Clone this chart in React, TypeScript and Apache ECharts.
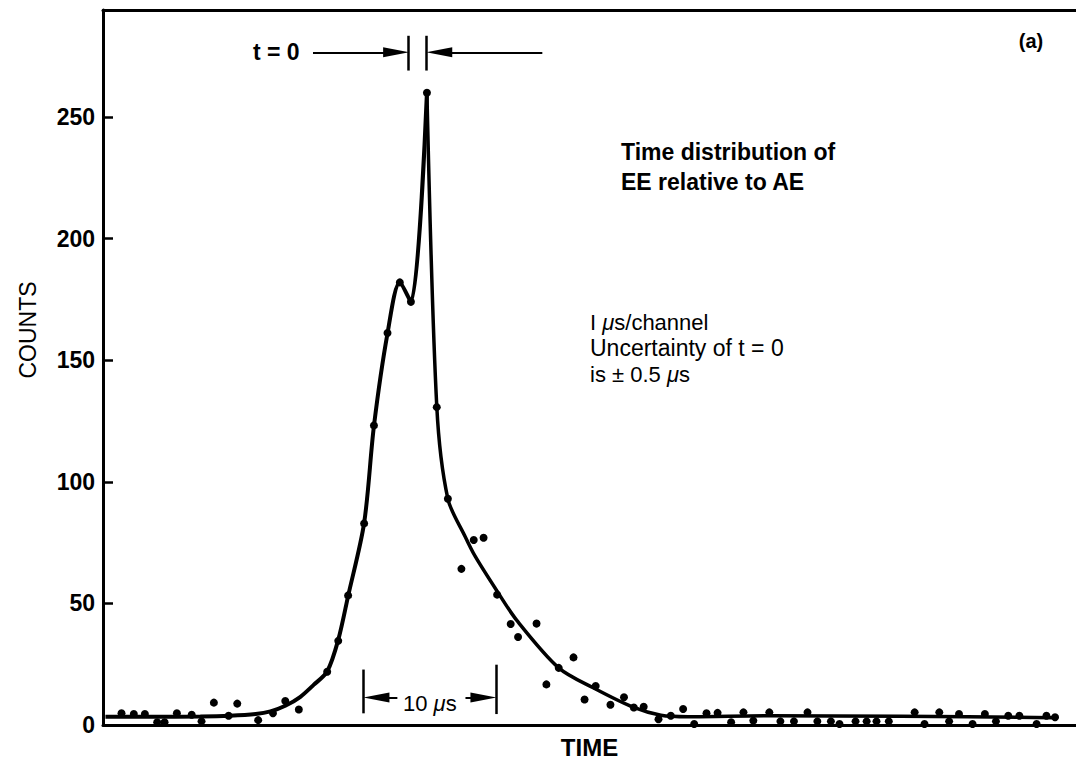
import React, { useEffect, useRef } from "react";
import * as echarts from "echarts";

// Measured points (time in µs from the left edge of the frame, counts)
const dotTime = [
  1.5, 2.5, 3.4, 4.4, 5.0, 6.0, 7.2, 8.0, 9.0, 10.2, 10.9, 12.6, 13.8, 14.8, 15.9,
  18.2, 19.1, 19.9, 21.2, 22.0, 23.1, 24.1, 25.0, 26.3,
  27.1, 28.0, 29.1, 30.1, 30.9, 32.0, 33.1, 33.7, 35.2, 36.0, 37.0, 38.2, 39.1, 40.0,
  41.2, 42.3, 43.1, 43.9, 45.1, 46.1, 47.1, 48.0, 49.0, 49.9, 51.0, 52.0, 52.8, 54.1,
  55.0, 56.1, 57.2, 58.0, 59.1, 59.8, 61.1, 62.0, 62.8, 63.8, 65.9, 66.7, 67.9, 68.7,
  69.5, 70.6, 71.6, 72.5, 73.5, 74.4, 75.8, 76.6, 77.3,
];
const dotCounts = [
  4.8, 4.5, 4.5, 1.1, 1.1, 4.8, 4.2, 1.5, 9.2, 3.8, 8.8, 2.0, 4.8, 9.9, 6.4,
  21.9, 34.6, 53.3, 82.9, 123.2, 161.2, 182, 174, 260,
  130.7, 93, 64.2, 76.1, 77.0, 53.6, 41.5, 36.2, 41.7, 16.7, 23.5, 27.8, 10.5, 16.0,
  8.3, 11.4, 7.2, 7.5, 2.4, 3.8, 6.6, 0.4, 4.8, 5.0, 1.1, 5.2, 1.8, 5.2,
  1.5, 1.5, 5.2, 1.5, 1.5, 0.4, 1.5, 1.5, 1.5, 1.5, 5.2, 0.4, 5.2, 1.5,
  4.5, 0.4, 4.5, 1.5, 3.8, 3.8, 0.4, 3.8, 3.2,
];

// Hand-drawn fitted curve: rising part and decaying part
const fitRiseTime = [0.2, 3.8, 7.9, 10.3, 12.4, 13.6, 14.8, 16.0, 17.1, 18.2, 19.1, 19.9, 21.2, 22.0, 23.1, 24.1, 25.0, 26.3];
const fitRiseCounts = [3.4, 3.4, 3.5, 3.8, 4.5, 5.6, 7.9, 11.5, 16.5, 22, 35, 53, 83, 123, 161, 182, 174, 260];
const fitDecayTime = [26.3, 27.1, 28.0, 29.4, 30.2, 32.0, 33.6, 37.0, 39.8, 43.1, 45.3, 47.5, 54.1, 64.8, 77.2];
const fitDecayCounts = [260, 131, 93, 77.5, 69.5, 55, 43, 23.5, 15.3, 7.2, 4.0, 3.4, 3.8, 3.6, 3.0];

const countTicks = [0, 50, 100, 150, 200, 250];
const timeMax = 79;
const countMax = 294;

const FONT = '"Liberation Sans", Arial, Helvetica, sans-serif';

export default function App() {
  const ref = useRef<HTMLDivElement>(null);

  useEffect(() => {
    if (!ref.current) return;
    const chart = echarts.init(ref.current, null, { renderer: "svg" });

    const pair = (xs: number[], ys: number[]) => xs.map((x, i) => [x, ys[i]]);
    const black = "#000";

    const seg = (x1: number, y1: number, x2: number, y2: number, endArrow: boolean) => [
      { coord: [x1, y1], symbol: "none" },
      {
        coord: [x2, y2],
        symbol: endArrow ? "triangle" : "none",
        symbolSize: [10, 26],
        lineStyle: { color: black, width: endArrow ? 2 : 2.5 },
      },
    ];

    const mu = (before: string, after: string, size: number, weight: string) => ({
      text: `{n|${before}}{m|μ}{n|${after}}`,
      textAlign: "left",
      textVerticalAlign: "middle",
      rich: {
        n: { fontFamily: FONT, fontSize: size, fontWeight: weight, fill: black },
        m: { fontFamily: FONT, fontSize: size, fontWeight: weight, fontStyle: "italic", fill: black },
      },
    });

    const option: any = {
      animation: false,
      backgroundColor: "#fff",
      grid: { left: 103, right: 0, top: 10, bottom: 33, containLabel: false },
      xAxis: [
        {
          type: "value",
          min: 0,
          max: timeMax,
          name: "TIME",
          nameLocation: "middle",
          nameGap: 10,
          nameTextStyle: { fontFamily: FONT, fontSize: 24, fontWeight: "bold", color: black, verticalAlign: "top" },
          axisLine: { show: true, onZero: false, lineStyle: { color: black, width: 3 } },
          axisTick: { show: false },
          axisLabel: { show: false },
          splitLine: { show: false },
        },
        {
          type: "value",
          position: "top",
          min: 0,
          max: timeMax,
          axisLine: { show: true, onZero: false, lineStyle: { color: black, width: 3 } },
          axisTick: { show: false },
          axisLabel: { show: false },
          splitLine: { show: false },
        },
      ],
      yAxis: {
        type: "value",
        min: countTicks[0],
        max: countMax,
        interval: countTicks[1] - countTicks[0],
        axisLine: { show: true, onZero: false, lineStyle: { color: black, width: 3 } },
        axisTick: { show: true, inside: true, length: 10, lineStyle: { color: black, width: 2.5 } },
        axisLabel: {
          showMaxLabel: false,
          margin: 8,
          fontFamily: FONT,
          fontSize: 23,
          fontWeight: "bold",
          color: black,
          formatter: (v: number) => (countTicks.indexOf(v) >= 0 ? String(v) : ""),
        },
        splitLine: { show: false },
      },
      series: [
        {
          type: "line",
          data: pair(fitRiseTime, fitRiseCounts),
          smooth: 0.3,
          showSymbol: false,
          symbol: "none",
          lineStyle: { color: black, width: 4 },
          z: 2,
        },
        {
          type: "line",
          data: pair(fitDecayTime, fitDecayCounts),
          smooth: 0.3,
          showSymbol: false,
          symbol: "none",
          lineStyle: { color: black, width: 3.5 },
          z: 2,
        },
        {
          type: "scatter",
          data: pair(dotTime, dotCounts),
          symbol: "circle",
          symbolSize: 8,
          itemStyle: { color: black, opacity: 1 },
          z: 3,
          markLine: {
            silent: true,
            animation: false,
            symbol: ["none", "none"],
            label: { show: false },
            lineStyle: { color: black, width: 2, type: "solid" },
            data: [
              // t = 0 arrows and bars
              seg(17.05, 276.6, 23.8, 276.6, true),
              seg(35.67, 276.6, 27.3, 276.6, true),
              seg(24.82, 283.4, 24.82, 269.1, false),
              seg(26.26, 283.4, 26.26, 269.1, false),
              // 10 µs marker
              seg(23.9, 11.3, 22.2, 11.3, true),
              seg(29.43, 11.3, 30.89, 11.3, true),
              seg(21.16, 22.8, 21.16, 4.8, false),
              seg(31.95, 24.8, 31.95, 4.5, false),
            ],
          },
        },
      ],
      graphic: [
        {
          type: "text",
          x: 253,
          y: 52,
          style: { text: "t = 0", fontFamily: FONT, fontSize: 23, fontWeight: "bold", fill: black, textAlign: "left", textVerticalAlign: "middle" },
        },
        {
          type: "text",
          x: 1031,
          y: 41,
          style: { text: "(a)", fontFamily: FONT, fontSize: 20, fontWeight: "bold", fill: black, textAlign: "center", textVerticalAlign: "middle" },
        },
        {
          type: "text",
          x: 621,
          y: 152,
          style: { text: "Time distribution of", fontFamily: FONT, fontSize: 23, fontWeight: "bold", fill: black, textAlign: "left", textVerticalAlign: "middle" },
        },
        {
          type: "text",
          x: 621,
          y: 182,
          style: { text: "EE relative to AE", fontFamily: FONT, fontSize: 23, fontWeight: "bold", fill: black, textAlign: "left", textVerticalAlign: "middle" },
        },
        { type: "text", x: 590, y: 322, style: mu("I ", "s/channel", 22, "normal") },
        {
          type: "text",
          x: 590,
          y: 348,
          style: { text: "Uncertainty of t = 0", fontFamily: FONT, fontSize: 23, fill: black, textAlign: "left", textVerticalAlign: "middle" },
        },
        { type: "text", x: 590, y: 374, style: mu("is ± 0.5 ", "s", 22, "normal") },
        { type: "text", x: 403, y: 703, style: mu("10 ", "s", 22, "normal") },
        {
          type: "text",
          x: 28,
          y: 330,
          rotation: Math.PI / 2,
          style: { text: "COUNTS", fontFamily: FONT, fontSize: 23, fill: black, textAlign: "center", textVerticalAlign: "middle" },
        },
      ],
    };

    chart.setOption(option);
    return () => chart.dispose();
  }, []);

  return (
    <div
      ref={ref}
      style={{ position: "absolute", left: 0, top: 0, width: 1076, height: 764, background: "#fff" }}
    />
  );
}
